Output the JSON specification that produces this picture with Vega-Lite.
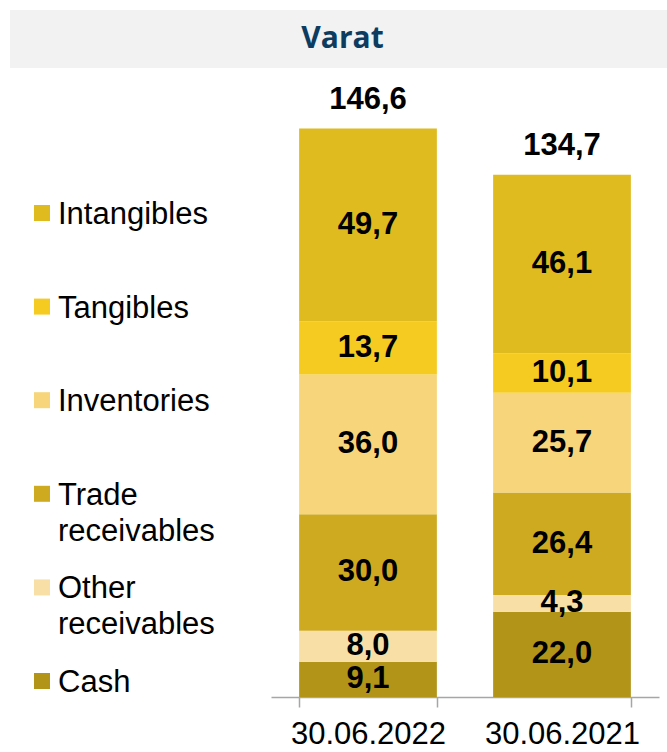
{
  "$schema": "https://vega.github.io/schema/vega-lite/v6.json",
  "padding": {"left": 10, "top": 10, "right": 0, "bottom": 0},
  "autosize": {"type": "pad"},
  "background": "white",
  "config": {
    "view": {"stroke": null},
    "font": "Liberation Sans",
    "locale": {"number": {"decimal": ",", "thousands": " ", "grouping": [3], "currency": ["", " €"]}}
  },
  "datasets": {
    "assets": [
      {"date": "30.06.2022", "category": "Cash", "value": 9.1, "idx": 1},
      {"date": "30.06.2022", "category": "Other receivables", "value": 8.0, "idx": 2},
      {"date": "30.06.2022", "category": "Trade receivables", "value": 30.0, "idx": 3},
      {"date": "30.06.2022", "category": "Inventories", "value": 36.0, "idx": 4},
      {"date": "30.06.2022", "category": "Tangibles", "value": 13.7, "idx": 5},
      {"date": "30.06.2022", "category": "Intangibles", "value": 49.7, "idx": 6},
      {"date": "30.06.2021", "category": "Cash", "value": 22.0, "idx": 1},
      {"date": "30.06.2021", "category": "Other receivables", "value": 4.3, "idx": 2},
      {"date": "30.06.2021", "category": "Trade receivables", "value": 26.4, "idx": 3},
      {"date": "30.06.2021", "category": "Inventories", "value": 25.7, "idx": 4},
      {"date": "30.06.2021", "category": "Tangibles", "value": 10.1, "idx": 5},
      {"date": "30.06.2021", "category": "Intangibles", "value": 46.1, "idx": 6}
    ],
    "totals": [
      {"date": "30.06.2022", "total": 146.6},
      {"date": "30.06.2021", "total": 134.7}
    ],
    "title": [{"text": "Varat"}]
  },
  "spacing": 12,
  "bounds": "flush",
  "vconcat": [
    {
      "width": 657,
      "height": 58,
      "view": {"fill": "#F2F2F2", "stroke": null},
      "data": {"name": "title"},
      "mark": {"type": "text", "font": "Open Sans", "fontWeight": "bold", "fontSize": 30, "color": "#0C3C5F", "baseline": "middle", "align": "center", "dx": 4},
      "encoding": {"text": {"field": "text"}}
    },
    {
      "spacing": 197,
      "bounds": "flush",
      "hconcat": [
        {
          "width": 64,
          "height": 617,
          "data": {"name": "assets"},
          "transform": [{"filter": "datum.date === '30.06.2022'"}],
          "encoding": {
            "y": {"field": "category", "type": "nominal", "axis": null,
                  "sort": ["Intangibles", "Tangibles", "Inventories", "Trade receivables", "Other receivables", "Cash"],
                  "scale": {"type": "point", "range": [133, 601], "padding": 0}},
            "color": {"field": "category", "type": "nominal", "legend": null,
                      "scale": {"domain": ["Cash", "Other receivables", "Trade receivables", "Inventories", "Tangibles", "Intangibles"],
                                "range": ["#B29419", "#F8DFA6", "#CEAA21", "#F7D57A", "#F5CB22", "#E0BB20"]}}
          },
          "layer": [
            {"mark": {"type": "square", "size": 256, "opacity": 1, "filled": true}},
            {"mark": {"type": "text", "align": "left", "baseline": "alphabetic", "dx": 16, "dy": 11, "fontSize": 31, "lineBreak": " ", "lineHeight": 36, "color": "black"},
             "encoding": {"text": {"field": "category"}, "color": {"value": "black"}}}
          ]
        },
        {
          "width": 388,
          "height": 617,
          "encoding": {
            "x": {"field": "date", "type": "nominal", "sort": ["30.06.2022", "30.06.2021"],
                  "scale": {"paddingInner": 0.29, "paddingOuter": 0.145},
                  "axis": {"title": null, "labelAngle": 0, "labelFontSize": 31, "labelColor": "#000000", "labelPadding": 12,
                           "domainColor": "#A6A6A6", "domainWidth": 1.5, "tickColor": "#A6A6A6", "tickWidth": 1.5, "tickSize": 10,
                           "tickBand": "extent"}}
          },
          "layer": [
            {
              "data": {"name": "assets"},
              "mark": {"type": "bar"},
              "encoding": {
                "y": {"field": "value", "type": "quantitative", "stack": "zero", "axis": null, "scale": {"domain": [0, 159], "nice": false}},
                "order": {"field": "idx", "type": "quantitative"},
                "color": {"field": "category", "type": "nominal", "legend": null}
              }
            },
            {
              "data": {"name": "assets"},
              "mark": {"type": "text", "fontSize": 31, "fontWeight": "bold", "color": "black", "baseline": "middle"},
              "encoding": {
                "y": {"field": "value", "type": "quantitative", "stack": "zero", "bandPosition": 0.5},
                "order": {"field": "idx", "type": "quantitative"},
                "detail": {"field": "category"},
                "text": {"field": "value", "type": "quantitative", "format": ".1f"}
              }
            },
            {
              "data": {"name": "totals"},
              "mark": {"type": "text", "fontSize": 31, "fontWeight": "bold", "color": "black", "baseline": "middle", "dy": -28},
              "encoding": {
                "y": {"field": "total", "type": "quantitative"},
                "text": {"field": "total", "type": "quantitative", "format": ".1f"}
              }
            }
          ]
        }
      ]
    }
  ]
}
